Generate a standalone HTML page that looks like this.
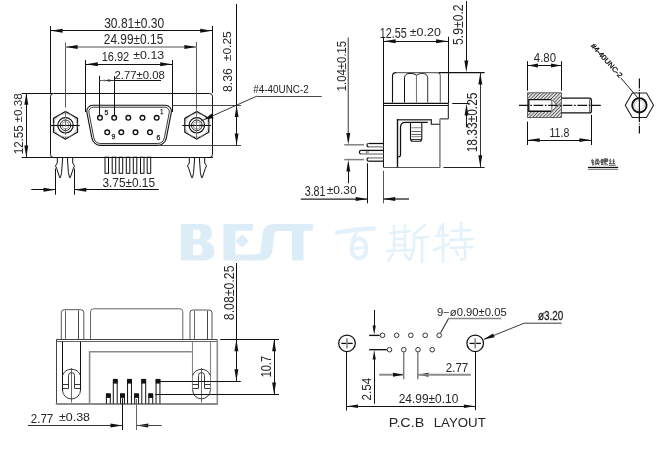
<!DOCTYPE html>
<html><head><meta charset="utf-8"><title>D-SUB drawing</title>
<style>
html,body{margin:0;padding:0;background:#fff;}
body{width:661px;height:456px;overflow:hidden;}
svg{position:absolute;left:0;top:0;display:block;font-family:"Liberation Sans",sans-serif;}
#dwg{filter:grayscale(1) blur(0.3px);}
</style></head><body>
<svg id="bg" width="661" height="456" viewBox="0 0 661 456">
<g id="wm">
<path d="M181 224 H203 Q212 224 212 233 Q212 240 205.5 241.6 Q214.5 243.2 214.5 251 Q214.5 260.4 203 260.4 H181 Z M193 229.5 H197.5 Q200.5 229.5 200.5 234.3 Q200.5 239 197.5 239 H193 Z M193 244.5 H198.5 Q202.3 244.5 202.3 250 Q202.3 255.3 198.5 255.3 H193 Z" fill="#dcedf8" fill-rule="evenodd"/>
<path d="M223.4 224 H253 V230.8 H235.4 V254.4 H253.5 V260.4 H223.4 Z" fill="#dcedf8" fill-rule="evenodd"/>
<path d="M242.2 234.3 L248.8 241 L242.2 247.7 L235.4 241 Z" fill="#dcedf8" fill-rule="evenodd"/>
<path d="M250 260.4 H261.5 Q271.2 260.4 272.4 250 L274 235 Q274.6 230.8 279 230.8 H291 V224 H273.5 Q263.6 224 262.4 234 L260.8 249.5 Q260.3 254.4 256 254.4 H250 Z" fill="#dcedf8" fill-rule="evenodd"/>
<path d="M277 224 H312.8 V230.8 H303.6 V260.4 H292 V230.8 H277 Z" fill="#dcedf8" fill-rule="evenodd"/>
<path d="M337 232.5 Q355 229 373.5 228.5" stroke="#e3f1fa" stroke-width="4.4" fill="none" stroke-linecap="round" stroke-linejoin="round"/>
<path d="M357 232 L352 240" stroke="#e3f1fa" stroke-width="2.8" fill="none" stroke-linecap="round" stroke-linejoin="round"/>
<ellipse cx="359" cy="248.5" rx="7.5" ry="10" fill="none" stroke="#e3f1fa" stroke-width="4"/>
<path d="M353 249 L365 247" stroke="#e3f1fa" stroke-width="2.4" fill="none" stroke-linecap="round" stroke-linejoin="round"/>
<path d="M390 233 L410 231 M394 226 L394 250 M405 225 L405 250 M394 239 L405 239 M394 245 L405 245 M387 251 L412 250 M393 254 L388 261 M405 254 L409 260" stroke="#e3f1fa" stroke-width="2.4" fill="none" stroke-linecap="round" stroke-linejoin="round"/>
<path d="M425 225 L414 234 L414 248 L410 260 M414 238 L428 237 M422 238 L422 262" stroke="#e3f1fa" stroke-width="2.56" fill="none" stroke-linecap="round" stroke-linejoin="round"/>
<path d="M441 226 L438 236 M436 236 L448 235 M443 224 L443 262 M434 250 L449 244" stroke="#e3f1fa" stroke-width="2.56" fill="none" stroke-linecap="round" stroke-linejoin="round"/>
<path d="M452 231 L470 230 M461 223 L461 240 M450 240 L473 239 M451 248 L472 247 M465 241 L465 258 L461 260 M456 251 L458 255" stroke="#e3f1fa" stroke-width="2.56" fill="none" stroke-linecap="round" stroke-linejoin="round"/>
</g>
</svg>
<svg id="dwg" width="661" height="456" viewBox="0 0 661 456">
<g id="v1">
<rect x="50.5" y="93.5" width="162" height="64" rx="3" stroke="#111" stroke-width="1" fill="none"/>
<line x1="21.7" y1="93.5" x2="53" y2="93.5" stroke="#111" stroke-width="1"/>
<line x1="21.7" y1="157.5" x2="213" y2="157.5" stroke="#111" stroke-width="1"/>
<line x1="26.5" y1="93" x2="26.5" y2="157.2" stroke="#111" stroke-width="1"/>
<polygon points="26.3,93 24.35,104.8 28.25,104.8" fill="#111"/>
<polygon points="26.3,157.2 24.35,145.4 28.25,145.4" fill="#111"/>
<text transform="translate(22.9 154.2) rotate(-90)" font-size="13.4" textLength="28.8" lengthAdjust="spacingAndGlyphs" fill="#262626">12.55</text>
<text transform="translate(22.2 122.4) rotate(-90)" font-size="10.6" textLength="29.2" lengthAdjust="spacingAndGlyphs" fill="#262626">±0.38</text>
<polygon points="65.5,139.1 53.55,132.2 53.55,118.4 65.5,111.5 77.45,118.4 77.45,132.2" fill="none" stroke="#111" stroke-width="1.3"/>
<circle cx="65.5" cy="125.3" r="11.7" stroke="#aaa" stroke-width="0.7" fill="none"/>
<circle cx="65.5" cy="125.3" r="7.7" stroke="#111" stroke-width="1.2" fill="none"/>
<circle cx="65.5" cy="125.3" r="5.3" stroke="#222" stroke-width="1" fill="none"/>
<circle cx="65.5" cy="125.3" r="3.6" stroke="#888" stroke-width="0.8" fill="none"/>
<line x1="51" y1="125.5" x2="79.7" y2="125.5" stroke="#111" stroke-width="1.1"/>
<polygon points="196.8,139.1 184.85,132.2 184.85,118.4 196.8,111.5 208.75,118.4 208.75,132.2" fill="none" stroke="#111" stroke-width="1.3"/>
<circle cx="196.8" cy="125.3" r="11.7" stroke="#aaa" stroke-width="0.7" fill="none"/>
<circle cx="196.8" cy="125.3" r="7.7" stroke="#111" stroke-width="1.2" fill="none"/>
<circle cx="196.8" cy="125.3" r="5.3" stroke="#222" stroke-width="1" fill="none"/>
<circle cx="196.8" cy="125.3" r="3.6" stroke="#888" stroke-width="0.8" fill="none"/>
<line x1="182.3" y1="125.5" x2="211" y2="125.5" stroke="#111" stroke-width="1.1"/>
<line x1="65.5" y1="42.5" x2="65.5" y2="107.5" stroke="#444" stroke-width="0.9"/>
<line x1="65.5" y1="111" x2="65.5" y2="139.2" stroke="#666" stroke-width="0.9" stroke-dasharray="7 1.5"/>
<line x1="196.5" y1="42" x2="196.5" y2="108" stroke="#444" stroke-width="0.9"/>
<line x1="196.5" y1="108" x2="196.5" y2="139.2" stroke="#666" stroke-width="0.9"/>
<path d="M86.89 112.45 A6 6 0 0 1 92.78 105.3 L165.42 105.3 A6 6 0 0 1 171.31 112.45 L166.32 138.12 A9 9 0 0 1 157.48 145.4 L100.72 145.4 A9 9 0 0 1 91.88 138.12 Z" stroke="#111" stroke-width="1.1" fill="none"/>
<path d="M88.93 112.55 A4.5 4.5 0 0 1 93.35 107.2 L164.85 107.2 A4.5 4.5 0 0 1 169.27 112.55 L164.43 137.66 A7.2 7.2 0 0 1 157.36 143.5 L100.84 143.5 A7.2 7.2 0 0 1 93.77 137.66 Z" stroke="#222" stroke-width="0.9" fill="none"/>
<circle cx="100" cy="117.8" r="2.35" stroke="#111" stroke-width="1.35" fill="none"/>
<circle cx="114.2" cy="117.8" r="2.35" stroke="#111" stroke-width="1.35" fill="none"/>
<circle cx="128.3" cy="117.8" r="2.35" stroke="#111" stroke-width="1.35" fill="none"/>
<circle cx="142.5" cy="117.8" r="2.35" stroke="#111" stroke-width="1.35" fill="none"/>
<circle cx="156.7" cy="117.8" r="2.35" stroke="#111" stroke-width="1.35" fill="none"/>
<circle cx="107.2" cy="132.3" r="2.35" stroke="#111" stroke-width="1.35" fill="none"/>
<circle cx="121.3" cy="132.3" r="2.35" stroke="#111" stroke-width="1.35" fill="none"/>
<circle cx="135.5" cy="132.3" r="2.35" stroke="#111" stroke-width="1.35" fill="none"/>
<circle cx="150" cy="132.3" r="2.35" stroke="#111" stroke-width="1.35" fill="none"/>
<text x="104.4" y="115" font-size="8" textLength="3.8" lengthAdjust="spacingAndGlyphs" fill="#111" stroke="#111" stroke-width="0.25">5</text>
<text x="160.2" y="114.4" font-size="8" textLength="3" lengthAdjust="spacingAndGlyphs" fill="#111" stroke="#111" stroke-width="0.25">1</text>
<text x="111.4" y="139" font-size="8" textLength="3.8" lengthAdjust="spacingAndGlyphs" fill="#111" stroke="#111" stroke-width="0.25">9</text>
<text x="156.6" y="139.6" font-size="8" textLength="3.8" lengthAdjust="spacingAndGlyphs" fill="#111" stroke="#111" stroke-width="0.25">6</text>
<line x1="50.5" y1="26.2" x2="50.5" y2="93" stroke="#111" stroke-width="1"/>
<line x1="212.5" y1="26" x2="212.5" y2="93" stroke="#111" stroke-width="1"/>
<line x1="50.3" y1="30.5" x2="212.4" y2="30.5" stroke="#111" stroke-width="1"/>
<polygon points="50.8,30.8 62.6,28.85 62.6,32.75" fill="#111"/>
<polygon points="212,30.8 200.2,28.85 200.2,32.75" fill="#111"/>
<text x="104.2" y="27.9" font-size="14.2" textLength="60" lengthAdjust="spacingAndGlyphs" fill="#262626">30.81±0.30</text>
<line x1="65.3" y1="47" x2="196.7" y2="47" stroke="#8c8c8c" stroke-width="1.6"/>
<polygon points="65.8,47 77.6,45.05 77.6,48.95" fill="#111"/>
<polygon points="196.2,47 184.4,45.05 184.4,48.95" fill="#111"/>
<text x="103.8" y="43.9" font-size="14.4" textLength="59.5" lengthAdjust="spacingAndGlyphs" fill="#262626">24.99±0.15</text>
<line x1="85.5" y1="60" x2="85.5" y2="112" stroke="#111" stroke-width="1"/>
<line x1="172.5" y1="60" x2="172.5" y2="112" stroke="#111" stroke-width="1"/>
<line x1="85.5" y1="64.5" x2="172.4" y2="64.5" stroke="#111" stroke-width="1"/>
<polygon points="86,64.3 97.8,62.35 97.8,66.25" fill="#111"/>
<polygon points="172,64.3 160.2,62.35 160.2,66.25" fill="#111"/>
<text x="101.7" y="60.8" font-size="13.2" textLength="27.5" lengthAdjust="spacingAndGlyphs" fill="#262626">16.92</text>
<text x="133.3" y="59.4" font-size="10.6" textLength="30.9" lengthAdjust="spacingAndGlyphs" fill="#262626">±0.13</text>
<line x1="99.5" y1="75.8" x2="99.5" y2="115" stroke="#111" stroke-width="1"/>
<line x1="114.5" y1="76" x2="114.5" y2="115" stroke="#111" stroke-width="1"/>
<line x1="114.4" y1="80.5" x2="161" y2="80.5" stroke="#111" stroke-width="1"/>
<line x1="99.6" y1="80.5" x2="114.4" y2="80.5" stroke="#444" stroke-width="1"/>
<polygon points="114.2,80.5 107.7,79.3 107.7,81.7" fill="#333"/>
<polygon points="100,80.5 105,79.5 105,81.5" fill="#777"/>
<text x="114.5" y="79" font-size="10" textLength="50.4" lengthAdjust="spacingAndGlyphs" fill="#262626">2.77±0.08</text>
<line x1="236.5" y1="4" x2="236.5" y2="145.3" stroke="#111" stroke-width="1"/>
<line x1="172" y1="105.5" x2="241" y2="105.5" stroke="#333" stroke-width="0.9"/>
<line x1="160" y1="145.5" x2="241" y2="145.5" stroke="#333" stroke-width="0.9"/>
<polygon points="236.6,105.3 234.65,117.1 238.55,117.1" fill="#111"/>
<polygon points="236.6,145.3 234.65,133.5 238.55,133.5" fill="#111"/>
<text transform="translate(231.5 92) rotate(-90)" font-size="13.2" textLength="23.8" lengthAdjust="spacingAndGlyphs" fill="#262626">8.36</text>
<text transform="translate(230.8 61.2) rotate(-90)" font-size="10.8" textLength="30" lengthAdjust="spacingAndGlyphs" fill="#262626">±0.25</text>
<line x1="256.7" y1="96.5" x2="321.7" y2="96.5" stroke="#333" stroke-width="0.9"/>
<line x1="256.7" y1="96.2" x2="201" y2="121" stroke="#222" stroke-width="0.9"/>
<polygon points="204.8,119.3 213.59,118.16 211.57,113.59" fill="#111"/>
<text x="253.3" y="92.6" font-size="10" textLength="55.4" lengthAdjust="spacingAndGlyphs" fill="#222">#4-40UNC-2</text>
<path d="M57.3 157.2 L57.3 163 L55.5 165.8 L56.6 168.2 L59.7 177.6 L60.5 177.6 L61.6 172.5 L62.7 157.2" stroke="#111" stroke-width="1" fill="none" stroke-linejoin="round"/>
<path d="M72.7 157.2 L72.7 163 L74.5 165.8 L73.4 168.2 L70.3 177.6 L69.5 177.6 L68.4 172.5 L67.3 157.2" stroke="#111" stroke-width="1" fill="none" stroke-linejoin="round"/>
<path d="M189.3 157.2 L189.3 163 L187.5 165.8 L188.6 168.2 L191.7 177.6 L192.5 177.6 L193.6 172.5 L194.7 157.2" stroke="#111" stroke-width="1" fill="none" stroke-linejoin="round"/>
<path d="M204.7 157.2 L204.7 163 L206.5 165.8 L205.4 168.2 L202.3 177.6 L201.5 177.6 L200.4 172.5 L199.3 157.2" stroke="#111" stroke-width="1" fill="none" stroke-linejoin="round"/>
<line x1="55.5" y1="168.6" x2="55.5" y2="194.7" stroke="#111" stroke-width="1"/>
<line x1="74.5" y1="168.6" x2="74.5" y2="194.7" stroke="#111" stroke-width="1"/>
<line x1="31.3" y1="189.5" x2="55.3" y2="189.5" stroke="#111" stroke-width="1"/>
<polygon points="55.3,189.7 43.5,187.75 43.5,191.65" fill="#111"/>
<line x1="74.5" y1="189.5" x2="158.8" y2="189.5" stroke="#111" stroke-width="1"/>
<polygon points="74.5,189.7 86.3,187.75 86.3,191.65" fill="#111"/>
<text x="102.5" y="186.8" font-size="12.9" textLength="52.5" lengthAdjust="spacingAndGlyphs" fill="#262626">3.75±0.15</text>
<rect x="105" y="157.2" width="3.5" height="16.1" rx="0" stroke="#111" stroke-width="1" fill="none"/>
<rect x="112.2" y="157.2" width="3.5" height="16.1" rx="0" stroke="#111" stroke-width="1" fill="none"/>
<rect x="119.2" y="157.2" width="3.5" height="16.1" rx="0" stroke="#111" stroke-width="1" fill="none"/>
<rect x="126.3" y="157.2" width="3.5" height="16.1" rx="0" stroke="#111" stroke-width="1" fill="none"/>
<rect x="133.3" y="157.2" width="3.5" height="16.1" rx="0" stroke="#111" stroke-width="1" fill="none"/>
<rect x="140.5" y="157.2" width="3.5" height="16.1" rx="0" stroke="#111" stroke-width="1" fill="none"/>
<rect x="147.2" y="157.2" width="3.5" height="16.1" rx="0" stroke="#111" stroke-width="1" fill="none"/>
</g>
<g id="v2">
<line x1="383.5" y1="36.7" x2="383.5" y2="103.5" stroke="#111" stroke-width="1"/>
<line x1="448.5" y1="36.7" x2="448.5" y2="103.5" stroke="#111" stroke-width="1"/>
<line x1="383.3" y1="41.5" x2="448.3" y2="41.5" stroke="#111" stroke-width="1"/>
<polygon points="383.8,41.2 395.6,39.25 395.6,43.15" fill="#111"/>
<polygon points="447.8,41.2 436,39.25 436,43.15" fill="#111"/>
<text x="379.8" y="37.9" font-size="14.2" textLength="27.1" lengthAdjust="spacingAndGlyphs" fill="#262626">12.55</text>
<text x="409.8" y="36.2" font-size="11.2" textLength="31" lengthAdjust="spacingAndGlyphs" fill="#262626">±0.20</text>
<path d="M392.5 102.5 L392.5 76 Q392.5 72.6 396 72.6" stroke="#111" stroke-width="1.1" fill="none"/>
<path d="M396 72.6 L437 72.6 Q440.3 72.6 440.3 76 L440.3 102.5" stroke="#666" stroke-width="1.1" fill="none"/>
<path d="M404.5 102.5 L404.5 77.2 Q405.2 73.6 410 73.4 Q414.6 73.4 416.5 75.2" stroke="#111" stroke-width="1" fill="none"/>
<path d="M416.5 102.5 L416.5 75.2" stroke="#777" stroke-width="1.1" fill="none"/>
<path d="M416.5 75.2 Q418.4 73.4 423 73.4 Q427.2 73.6 427.7 77.2 L427.7 102.5" stroke="#333" stroke-width="1" fill="none"/>
<line x1="383.3" y1="103.4" x2="448.3" y2="103.4" stroke="#111" stroke-width="1.4"/>
<line x1="383.3" y1="105.5" x2="448.3" y2="105.5" stroke="#111" stroke-width="1"/>
<line x1="383.5" y1="103.5" x2="383.5" y2="167.3" stroke="#111" stroke-width="1"/>
<path d="M448.3 103.5 L448.3 118.9 L439.8 118.9" stroke="#111" stroke-width="1" fill="none"/>
<line x1="439.9" y1="118.9" x2="439.9" y2="167.8" stroke="#8c8c8c" stroke-width="1.7"/>
<line x1="383.3" y1="167.5" x2="439.8" y2="167.5" stroke="#555" stroke-width="1"/>
<path d="M431.3 119.7 L397.5 119.7" stroke="#444" stroke-width="1.5" fill="none"/>
<path d="M397.5 119 L397.5 167.3" stroke="#111" stroke-width="1.4" fill="none"/>
<path d="M431.3 119.2 L431.3 124.2 L439.8 124.2" stroke="#111" stroke-width="1.1" fill="none"/>
<path d="M427.8 122.3 L405.4 122.3 Q400.5 122.3 400.5 127.3 L400.5 155 Q400.5 156.8 398 157" stroke="#111" stroke-width="1.25" fill="none"/>
<path d="M410.5 122.3 L410.5 138.6 Q410.7 141.3 413 141.3 L419.4 141.3 Q421.6 141.3 421.8 138.6 L421.8 122.3" stroke="#111" stroke-width="1.1" fill="none"/>
<line x1="410.8" y1="139.5" x2="421.5" y2="139.5" stroke="#222" stroke-width="0.9"/>
<line x1="411.4" y1="127.7" x2="421" y2="127.7" stroke="#999" stroke-width="1.2"/>
<line x1="411.4" y1="131.5" x2="421" y2="131.5" stroke="#555" stroke-width="0.9"/>
<line x1="411.4" y1="134.5" x2="421" y2="134.5" stroke="#555" stroke-width="0.9"/>
<line x1="411.4" y1="136.6" x2="421" y2="136.6" stroke="#999" stroke-width="1.2"/>
<path d="M383.5 146.8 L368.65 146.8" stroke="#888" stroke-width="1.4" fill="none"/>
<path d="M383.5 143.5 L368.65 143.5" stroke="#111" stroke-width="1.25" fill="none"/>
<path d="M368.65 143.5 A1.65 1.65 0 0 0 368.65 146.8" stroke="#111" stroke-width="1.2" fill="none"/>
<path d="M383.5 154 L361.2 154" stroke="#888" stroke-width="1.4" fill="none"/>
<path d="M383.5 150.4 L361.2 150.4" stroke="#111" stroke-width="1.3" fill="none"/>
<path d="M361.2 150.4 A1.8 1.8 0 0 0 361.2 154" stroke="#111" stroke-width="1.2" fill="none"/>
<path d="M383.5 161.2 L368.65 161.2" stroke="#111" stroke-width="1.25" fill="none"/>
<path d="M383.5 157.9 L368.65 157.9" stroke="#888" stroke-width="1.4" fill="none"/>
<path d="M368.65 157.9 A1.65 1.65 0 0 0 368.65 161.2" stroke="#111" stroke-width="1.2" fill="none"/>
<line x1="366.5" y1="150.6" x2="366.5" y2="153.8" stroke="#666" stroke-width="0.9"/>
<rect x="366.8" y="151.2" width="2.2" height="2.4" rx="0" stroke="none" stroke-width="0" fill="#aaa"/>
<line x1="348.3" y1="37.5" x2="348.3" y2="134" stroke="#707070" stroke-width="1.4"/>
<polygon points="348.3,144.7 346.35,132.9 350.25,132.9" fill="#111"/>
<line x1="344.2" y1="144.8" x2="364" y2="144.8" stroke="#808080" stroke-width="1.5"/>
<line x1="344.2" y1="159.6" x2="364" y2="159.6" stroke="#808080" stroke-width="1.5"/>
<polygon points="348.3,159.7 346.35,171.5 350.25,171.5" fill="#111"/>
<line x1="348.5" y1="170" x2="348.5" y2="183.3" stroke="#111" stroke-width="1"/>
<text transform="translate(345.8 91.3) rotate(-90)" font-size="13.4" textLength="50.5" lengthAdjust="spacingAndGlyphs" fill="#262626">1.04±0.15</text>
<line x1="367.5" y1="163.3" x2="367.5" y2="203.3" stroke="#111" stroke-width="1"/>
<line x1="383.5" y1="170.8" x2="383.5" y2="203.3" stroke="#444" stroke-width="0.9"/>
<line x1="300.8" y1="199" x2="367.5" y2="199" stroke="#222" stroke-width="1.25"/>
<polygon points="367.5,199 355.7,197.05 355.7,200.95" fill="#111"/>
<polygon points="383.4,199 395.2,197.05 395.2,200.95" fill="#111"/>
<line x1="383.4" y1="199" x2="409" y2="199" stroke="#111" stroke-width="1.2"/>
<text x="304.7" y="195.9" font-size="14" textLength="20.8" lengthAdjust="spacingAndGlyphs" fill="#262626">3.81</text>
<text x="326.7" y="193.8" font-size="10.6" textLength="30" lengthAdjust="spacingAndGlyphs" fill="#262626">±0.30</text>
<line x1="466.5" y1="1" x2="466.5" y2="62" stroke="#111" stroke-width="1"/>
<polygon points="466.3,72.2 464.35,60.4 468.25,60.4" fill="#111"/>
<line x1="438.8" y1="72.6" x2="484.6" y2="72.6" stroke="#111" stroke-width="1.25"/>
<line x1="452.3" y1="103.5" x2="469.6" y2="103.5" stroke="#111" stroke-width="1"/>
<polygon points="466.5,103.8 464.55,115.6 468.45,115.6" fill="#111"/>
<line x1="466.5" y1="113" x2="466.5" y2="127.3" stroke="#111" stroke-width="1"/>
<text transform="translate(463.3 45) rotate(-90)" font-size="14" textLength="40.6" lengthAdjust="spacingAndGlyphs" fill="#262626">5.9±0.2</text>
<line x1="480.5" y1="72.5" x2="480.5" y2="167.2" stroke="#333" stroke-width="1"/>
<polygon points="480.3,72.7 478.35,84.5 482.25,84.5" fill="#111"/>
<polygon points="480.3,167 478.35,155.2 482.25,155.2" fill="#111"/>
<line x1="443.5" y1="167.5" x2="484.6" y2="167.5" stroke="#222" stroke-width="1"/>
<text transform="translate(476.6 152.3) rotate(-90)" font-size="14" textLength="59.8" lengthAdjust="spacingAndGlyphs" fill="#262626">18.33±0.25</text>
</g>
<g id="v3">
<defs><pattern id="hatch" width="2.4" height="2.4" patternUnits="userSpaceOnUse" patternTransform="rotate(45)"><rect width="2.4" height="2.4" fill="#e9e9e9"/><line x1="1.2" y1="0" x2="1.2" y2="2.4" stroke="#555" stroke-width="0.9"/></pattern></defs>
<path d="M527.5 92.8 H561.4 V117.5 H527.5 Z M528.8 99.6 V111.2 H551.2 L556.3 105.4 L551.2 99.6 Z" stroke="none" stroke-width="0" fill="url(#hatch)" fill-rule="evenodd"/>
<rect x="527.5" y="92.8" width="33.9" height="24.7" rx="0" stroke="#444" stroke-width="0.8" fill="none"/>
<path d="M528.8 99.6 H551.2 L556.3 105.4 L551.2 111.2 H528.8 Z" stroke="none" stroke-width="0" fill="#fff"/>
<path d="M551.2 99.6 Q556 102 556.4 105.4 Q556 108.8 551.2 111.2" stroke="#777" stroke-width="1" fill="none"/>
<path d="M551.2 99.6 H528.8 V111.2 H551.2" stroke="#111" stroke-width="1.35" fill="none"/>
<line x1="551.5" y1="99.6" x2="551.5" y2="111.2" stroke="#888" stroke-width="0.9"/>
<line x1="552.5" y1="101.5" x2="552.5" y2="109.3" stroke="#aaa" stroke-width="0.8"/>
<path d="M561.4 98.1 H589.5 Q591.4 98.1 591.4 100 V110.9 Q591.4 112.8 589.5 112.8 H561.4" stroke="#111" stroke-width="1.3" fill="none"/>
<line x1="589.5" y1="98.5" x2="589.5" y2="112.4" stroke="#555" stroke-width="0.8"/>
<line x1="519" y1="105.4" x2="600.8" y2="105.4" stroke="#111" stroke-width="1.2" stroke-dasharray="9.6 1.7 1.6 1.7"/>
<line x1="527.5" y1="61.2" x2="527.5" y2="90.7" stroke="#111" stroke-width="1"/>
<line x1="561.5" y1="61.2" x2="561.5" y2="90.7" stroke="#111" stroke-width="1"/>
<line x1="527.5" y1="65.5" x2="561.5" y2="65.5" stroke="#111" stroke-width="1"/>
<polygon points="528,65.5 538,63.5 538,67.5" fill="#111"/>
<polygon points="561,65.5 551,63.5 551,67.5" fill="#111"/>
<text x="533.8" y="62.2" font-size="12.3" textLength="22.2" lengthAdjust="spacingAndGlyphs" fill="#262626">4.80</text>
<line x1="527.5" y1="121.6" x2="527.5" y2="145" stroke="#111" stroke-width="1"/>
<line x1="591.5" y1="114.8" x2="591.5" y2="145" stroke="#111" stroke-width="1"/>
<line x1="527.5" y1="140.5" x2="591.6" y2="140.5" stroke="#111" stroke-width="1"/>
<polygon points="527.9,140.1 539.7,138.15 539.7,142.05" fill="#111"/>
<polygon points="591.2,140.1 579.4,138.15 579.4,142.05" fill="#111"/>
<text x="549.5" y="137.3" font-size="12.6" textLength="19.8" lengthAdjust="spacingAndGlyphs" fill="#262626">11.8</text>
<polygon points="653.55,105.3 646.48,117.55 632.32,117.55 625.25,105.3 632.32,93.05 646.48,93.05" fill="none" stroke="#222" stroke-width="1.1"/>
<circle cx="639.4" cy="105.3" r="7.2" stroke="#111" stroke-width="1.9" fill="none"/>
<circle cx="639.4" cy="105.3" r="4.9" stroke="#aaa" stroke-width="0.7" fill="none"/>
<line x1="639.4" y1="78.6" x2="639.4" y2="88.6" stroke="#111" stroke-width="1.2"/>
<line x1="639.4" y1="89.8" x2="639.4" y2="91" stroke="#111" stroke-width="1.2"/>
<line x1="639.4" y1="92.2" x2="639.4" y2="122" stroke="#111" stroke-width="1.2"/>
<line x1="639.4" y1="123.4" x2="639.4" y2="124.6" stroke="#111" stroke-width="1.2"/>
<line x1="639.4" y1="125.8" x2="639.4" y2="133.4" stroke="#111" stroke-width="1.2"/>
<line x1="620.7" y1="77.8" x2="637.8" y2="97.8" stroke="#222" stroke-width="1"/>
<text transform="translate(590.6 46.2) rotate(47.93)" font-size="7.2" textLength="43" lengthAdjust="spacingAndGlyphs" fill="#111" stroke="#111" stroke-width="0.3">#4-40UNC-2</text>
<g transform="translate(591.3 158.5) scale(0.875 0.96) translate(-591.5 -158.6)">
<path d="M593 159 L591.5 161.5 M591.8 161 H594.6 M591.6 163 H594.6 M593.2 161 V165.6 L594.8 164.6" stroke="#333" stroke-width="0.95" fill="none"/>
<path d="M596.6 159 L597.4 160.4 M599.8 159 L599 160.4 M598.2 158.6 V160.6 M596 161 H600.4 V164 H596 Z M598.2 161 V163.5 L596 165.8 M598.2 163.5 L600.6 165.8" stroke="#333" stroke-width="0.95" fill="none"/>
<path d="M602.6 160 H605 V163 H602.6 Z M603.8 158.8 V165 M602.4 165.2 L605.4 164.4" stroke="#333" stroke-width="0.95" fill="none"/>
<path d="M606 159 H610.2 V161.6 H606 Z M608.1 159 V161.6 M606 160.3 H610.2 M607.4 162 L606.4 163.4 L608.8 163.2 M608.1 163.2 V166 M606.4 164.6 L605.8 165.8 M609.6 164.4 L610.4 165.8" stroke="#333" stroke-width="0.95" fill="none"/>
<path d="M613.6 158.8 L612.4 161.4 L614.2 161.2 L612.2 164 L615 163.6 M617.4 158.8 L616.2 161.4 L618 161.2 L616 164 L618.8 163.6 M611.6 165.6 H619.4" stroke="#333" stroke-width="0.95" fill="none"/>
</g>
<line x1="588" y1="167.5" x2="618.2" y2="167.5" stroke="#111" stroke-width="1.3"/>
<line x1="588" y1="169.5" x2="618.2" y2="169.5" stroke="#777" stroke-width="0.9"/>
</g>
<g id="v4">
<path d="M61.3 339.7 V312.7 Q61.3 309.7 64.3 309.7 H80.8 Q83.8 309.7 83.8 312.7 V339.7" stroke="#444" stroke-width="0.9" fill="none"/>
<line x1="65.5" y1="310.5" x2="65.5" y2="339.7" stroke="#555" stroke-width="0.9"/>
<line x1="78.5" y1="310.5" x2="78.5" y2="339.7" stroke="#333" stroke-width="0.9"/>
<path d="M190 339.7 V313 Q190 310 193 310 H209 Q212 310 212 313 V339.7" stroke="#444" stroke-width="0.9" fill="none"/>
<line x1="194.5" y1="310.8" x2="194.5" y2="339.7" stroke="#555" stroke-width="0.9"/>
<line x1="207.5" y1="310.8" x2="207.5" y2="339.7" stroke="#333" stroke-width="0.9"/>
<path d="M90.5 339.7 V311.8 Q90.5 308.8 93.5 308.8 H179.8 Q182.8 308.8 182.8 311.8 V339.7" stroke="#666" stroke-width="1" fill="none"/>
<line x1="56.2" y1="339.5" x2="217.5" y2="339.5" stroke="#444" stroke-width="1"/>
<line x1="56.2" y1="341.5" x2="217.5" y2="341.5" stroke="#555" stroke-width="0.9"/>
<line x1="56.5" y1="339.6" x2="56.5" y2="403.8" stroke="#444" stroke-width="1"/>
<line x1="217.3" y1="339.6" x2="217.3" y2="404.5" stroke="#8c8c8c" stroke-width="1.6"/>
<line x1="55.8" y1="404" x2="218" y2="404" stroke="#8c8c8c" stroke-width="1.8"/>
<path d="M89.6 403.8 V351.7 H191.8" stroke="#8a8a8a" stroke-width="1.6" fill="none"/>
<line x1="62.5" y1="341.7" x2="62.5" y2="390.5" stroke="#111" stroke-width="1"/>
<line x1="80.5" y1="341.7" x2="80.5" y2="390.5" stroke="#111" stroke-width="1"/>
<line x1="192.5" y1="341.7" x2="192.5" y2="390.5" stroke="#888" stroke-width="1.1"/>
<line x1="210.5" y1="341.7" x2="210.5" y2="390.5" stroke="#888" stroke-width="1.1"/>
<path d="M62.5 375.5 A9.6 9.6 0 0 1 80.5 375.5" stroke="#222" stroke-width="0.9" fill="none"/>
<path d="M62.5 390 A9 9 0 0 0 80.5 390" stroke="#222" stroke-width="0.9" fill="none"/>
<path d="M68.5 388.3 V375.5 A3 3 0 0 1 74.5 375.5 V388.3" stroke="#222" stroke-width="0.9" fill="none"/>
<line x1="62.5" y1="384.5" x2="68.5" y2="384.5" stroke="#222" stroke-width="0.9"/>
<line x1="74.5" y1="384.5" x2="80.5" y2="384.5" stroke="#222" stroke-width="0.9"/>
<line x1="62.5" y1="388.5" x2="68.5" y2="388.5" stroke="#222" stroke-width="0.9"/>
<line x1="74.5" y1="388.5" x2="80.5" y2="388.5" stroke="#222" stroke-width="0.9"/>
<line x1="71.5" y1="368" x2="71.5" y2="402.5" stroke="#444" stroke-width="0.8"/>
<path d="M192.65 375.5 A9.45 9.45 0 0 1 210.35 375.5" stroke="#222" stroke-width="0.9" fill="none"/>
<path d="M192.65 390 A8.85 8.85 0 0 0 210.35 390" stroke="#222" stroke-width="0.9" fill="none"/>
<path d="M198.5 388.3 V375.5 A3 3 0 0 1 204.5 375.5 V388.3" stroke="#222" stroke-width="0.9" fill="none"/>
<line x1="192.65" y1="384.5" x2="198.5" y2="384.5" stroke="#222" stroke-width="0.9"/>
<line x1="204.5" y1="384.5" x2="210.35" y2="384.5" stroke="#222" stroke-width="0.9"/>
<line x1="192.65" y1="388.5" x2="198.5" y2="388.5" stroke="#222" stroke-width="0.9"/>
<line x1="204.5" y1="388.5" x2="210.35" y2="388.5" stroke="#222" stroke-width="0.9"/>
<line x1="201.5" y1="368" x2="201.5" y2="402.5" stroke="#444" stroke-width="0.8"/>
<path d="M106.4 403.8 V394 H110.3 V403.8" stroke="#111" stroke-width="1" fill="none"/>
<rect x="106.3" y="393.8" width="4.1" height="4" rx="0" stroke="#111" stroke-width="0.4" fill="#111"/>
<path d="M113.3 403.8 V379.4 H117.2 V403.8" stroke="#111" stroke-width="1" fill="none"/>
<rect x="113.2" y="379.2" width="4.1" height="4.1" rx="0" stroke="#111" stroke-width="0.4" fill="#111"/>
<path d="M120.55 403.8 V394 H124.45 V403.8" stroke="#111" stroke-width="1" fill="none"/>
<rect x="120.45" y="393.8" width="4.1" height="4" rx="0" stroke="#111" stroke-width="0.4" fill="#111"/>
<path d="M127.55 403.8 V379.4 H131.45 V403.8" stroke="#111" stroke-width="1" fill="none"/>
<rect x="127.45" y="379.2" width="4.1" height="4.1" rx="0" stroke="#111" stroke-width="0.4" fill="#111"/>
<path d="M134.7 403.8 V394 H138.6 V403.8" stroke="#111" stroke-width="1" fill="none"/>
<rect x="134.6" y="393.8" width="4.1" height="4" rx="0" stroke="#111" stroke-width="0.4" fill="#111"/>
<path d="M141.8 403.8 V379.4 H145.7 V403.8" stroke="#111" stroke-width="1" fill="none"/>
<rect x="141.7" y="379.2" width="4.1" height="4.1" rx="0" stroke="#111" stroke-width="0.4" fill="#111"/>
<path d="M148.85 403.8 V394 H152.75 V403.8" stroke="#111" stroke-width="1" fill="none"/>
<rect x="148.75" y="393.8" width="4.1" height="4" rx="0" stroke="#111" stroke-width="0.4" fill="#111"/>
<path d="M156.05 403.8 V379.4 H159.95 V403.8" stroke="#111" stroke-width="1" fill="none"/>
<rect x="155.95" y="379.2" width="4.1" height="4.1" rx="0" stroke="#111" stroke-width="0.4" fill="#111"/>
<line x1="160.2" y1="381.5" x2="240.8" y2="381.5" stroke="#111" stroke-width="1"/>
<line x1="155.3" y1="394.5" x2="279" y2="394.5" stroke="#111" stroke-width="1"/>
<line x1="220.2" y1="339.5" x2="279" y2="339.5" stroke="#111" stroke-width="1"/>
<line x1="236.5" y1="263" x2="236.5" y2="339.1" stroke="#111" stroke-width="1"/>
<line x1="236.5" y1="339.1" x2="236.5" y2="381.3" stroke="#111" stroke-width="1"/>
<polygon points="236.4,339.4 234.45,351.2 238.35,351.2" fill="#111"/>
<polygon points="236.4,381.1 234.45,369.3 238.35,369.3" fill="#111"/>
<text transform="translate(233.9 320.2) rotate(-90)" font-size="14" textLength="54.7" lengthAdjust="spacingAndGlyphs" fill="#262626">8.08±0.25</text>
<line x1="274.5" y1="339.1" x2="274.5" y2="394.4" stroke="#111" stroke-width="1"/>
<polygon points="274.1,339.4 272.15,351.2 276.05,351.2" fill="#111"/>
<polygon points="274.1,394.2 272.15,382.4 276.05,382.4" fill="#111"/>
<text transform="translate(270.6 377.3) rotate(-90)" font-size="13.8" textLength="21.3" lengthAdjust="spacingAndGlyphs" fill="#262626">10.7</text>
<line x1="122.5" y1="398.3" x2="122.5" y2="430" stroke="#111" stroke-width="1"/>
<line x1="136.5" y1="399" x2="136.5" y2="430" stroke="#666" stroke-width="1"/>
<line x1="28" y1="425.5" x2="122.5" y2="425.5" stroke="#333" stroke-width="1"/>
<polygon points="122.3,425.5 110.5,423.55 110.5,427.45" fill="#111"/>
<polygon points="136.5,425.5 148.3,423.55 148.3,427.45" fill="#111"/>
<line x1="136.5" y1="425.5" x2="161.7" y2="425.5" stroke="#444" stroke-width="1"/>
<text x="30.8" y="422.7" font-size="13.6" textLength="22.5" lengthAdjust="spacingAndGlyphs" fill="#262626">2.77</text>
<text x="58.9" y="420.9" font-size="10.8" textLength="31.2" lengthAdjust="spacingAndGlyphs" fill="#262626">±0.38</text>
</g>
<g id="v5">
<circle cx="347" cy="343.3" r="8.3" stroke="#111" stroke-width="1.25" fill="none"/>
<line x1="341.3" y1="343.4" x2="352.7" y2="343.4" stroke="#111" stroke-width="1.3"/>
<line x1="347" y1="338.2" x2="347" y2="348.6" stroke="#888" stroke-width="1.6"/>
<circle cx="475.2" cy="343.3" r="8.3" stroke="#111" stroke-width="1.25" fill="none"/>
<line x1="469.5" y1="343.4" x2="480.9" y2="343.4" stroke="#111" stroke-width="1.3"/>
<line x1="475.2" y1="338.2" x2="475.2" y2="348.6" stroke="#888" stroke-width="1.6"/>
<line x1="346.5" y1="351.8" x2="346.5" y2="410.5" stroke="#111" stroke-width="1"/>
<line x1="475.5" y1="351.8" x2="475.5" y2="410.2" stroke="#111" stroke-width="1"/>
<circle cx="382.5" cy="335.3" r="2.3" stroke="#333" stroke-width="1" fill="none"/>
<circle cx="396.7" cy="335.3" r="2.3" stroke="#333" stroke-width="1" fill="none"/>
<circle cx="410.8" cy="335.3" r="2.3" stroke="#333" stroke-width="1" fill="none"/>
<circle cx="425.2" cy="335.3" r="2.3" stroke="#333" stroke-width="1" fill="none"/>
<circle cx="439.2" cy="335.3" r="2.3" stroke="#333" stroke-width="1" fill="none"/>
<circle cx="389.5" cy="349.7" r="2.3" stroke="#333" stroke-width="1" fill="none"/>
<circle cx="403.8" cy="349.7" r="2.3" stroke="#333" stroke-width="1" fill="none"/>
<circle cx="418" cy="349.7" r="2.3" stroke="#333" stroke-width="1" fill="none"/>
<circle cx="432.2" cy="349.7" r="2.3" stroke="#333" stroke-width="1" fill="none"/>
<line x1="369.2" y1="335.4" x2="379.6" y2="335.4" stroke="#111" stroke-width="1.35"/>
<line x1="369.2" y1="349.7" x2="386.8" y2="349.7" stroke="#111" stroke-width="1.35"/>
<line x1="374.5" y1="310" x2="374.5" y2="326" stroke="#111" stroke-width="1"/>
<polygon points="374.2,335.1 372.6,325.6 375.8,325.6" fill="#111"/>
<polygon points="374.2,349.9 372.6,359.4 375.8,359.4" fill="#111"/>
<line x1="374.5" y1="358" x2="374.5" y2="403.7" stroke="#111" stroke-width="1"/>
<text transform="translate(370.8 400.4) rotate(-90)" font-size="13.6" textLength="22.6" lengthAdjust="spacingAndGlyphs" fill="#262626">2.54</text>
<line x1="403.7" y1="352" x2="403.7" y2="379.3" stroke="#808080" stroke-width="1.5"/>
<line x1="417.8" y1="352" x2="417.8" y2="379.3" stroke="#808080" stroke-width="1.5"/>
<line x1="379.2" y1="374.7" x2="403.7" y2="374.7" stroke="#8c8c8c" stroke-width="2"/>
<polygon points="403.5,374.7 393,372.7 393,376.7" fill="#111"/>
<polygon points="418,374.7 428.5,372.7 428.5,376.7" fill="#111"/>
<line x1="418" y1="374.7" x2="470.8" y2="374.7" stroke="#8c8c8c" stroke-width="2"/>
<text x="445.8" y="371.8" font-size="13" textLength="22.5" lengthAdjust="spacingAndGlyphs" fill="#262626">2.77</text>
<line x1="346.5" y1="406.5" x2="475.3" y2="406.5" stroke="#111" stroke-width="1"/>
<polygon points="347,406.2 358,404.5 358,407.9" fill="#111"/>
<polygon points="474.9,406.2 463.9,404.5 463.9,407.9" fill="#111"/>
<text x="398.7" y="403.4" font-size="13.4" textLength="59.6" lengthAdjust="spacingAndGlyphs" fill="#262626">24.99±0.10</text>
<text x="388.7" y="426.8" font-size="12.6" textLength="35.5" lengthAdjust="spacingAndGlyphs" fill="#262626">P.C.B</text>
<text x="433.7" y="426.8" font-size="12.6" textLength="52.1" lengthAdjust="spacingAndGlyphs" fill="#262626">LAYOUT</text>
<path d="M440.6 332.8 L448.6 318.5" stroke="#333" stroke-width="1.1" fill="none"/>
<line x1="448.2" y1="318.5" x2="501.2" y2="318.5" stroke="#888" stroke-width="1.6"/>
<text x="437" y="315.5" font-size="10" textLength="69.7" lengthAdjust="spacingAndGlyphs" fill="#262626">9−ø0.90±0.05</text>
<path d="M561.6 323.2 H524.1 L484 339.4" stroke="#222" stroke-width="0.9" fill="none"/>
<polygon points="483.2,339.6 494.61,337.16 493.12,333.45" fill="#111"/>
<text x="538" y="320" font-size="12.8" textLength="25.4" lengthAdjust="spacingAndGlyphs" fill="#222" stroke="#222" stroke-width="0.3">ø3.20</text>
</g>
</svg>
</body></html>
